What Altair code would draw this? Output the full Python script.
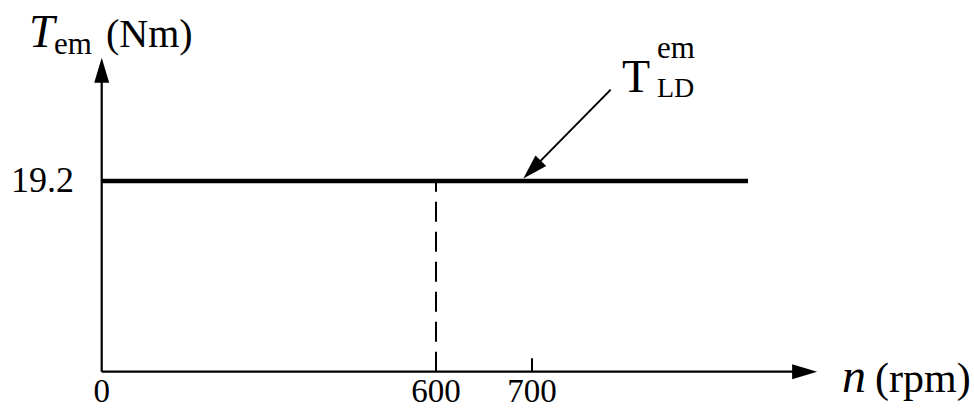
import altair as alt
import pandas as pd

# Load characteristic: constant electromagnetic torque over speed
load_torque = 19.2          # Nm
speed_end = 925             # rpm, right end of the drawn characteristic
marked_speed = 600          # rpm, dashed drop line
tick_speed = 700            # rpm, extra axis tick
x_ticks = [0, 600, 700]
x_tick_labels = ["0", "600", "700"]
y_tick_label = "19.2"

# Axis extents (arrow tips)
x_axis_end = 997
y_axis_end = 31.6

# Annotation arrow (tail -> tip), in data units
ann_tail = (782, 28.4)
ann_tip = (691, 19.45)

W, H = 974, 410
SERIF = "Liberation Serif"

# Piecewise speed axis: schematic spacing, not proportional
xs = alt.Scale(domain=[0, 600, 700, 1000], range=[101.7, 436, 532, 820],
               nice=False, zero=False)
ys = alt.Scale(domain=[0, load_torque], range=[371.7, 181], nice=False, zero=False)

def X(field):
    return alt.X(field, type="quantitative", scale=xs, axis=None)

def Y(field):
    return alt.Y(field, type="quantitative", scale=ys, axis=None)

# Axis shafts
axes_df = pd.DataFrame({
    "x": [0, 0], "x2": [x_axis_end - 20, 0],
    "y": [0, 0], "y2": [0, y_axis_end - 2.2],
})
axes = alt.Chart(axes_df).mark_rule(color="black", strokeWidth=2.2).encode(
    x=X("x"), x2="x2", y=Y("y"), y2="y2")

# Arrowheads: custom triangle (unit square is [-1, 1]) with the tip at the anchor
head_path = "M0,0L0.6,2L-0.6,2Z"
heads_df = pd.DataFrame({
    "x": [0, x_axis_end, ann_tip[0]],
    "y": [y_axis_end, 0, ann_tip[1]],
    "angle": [0, 90, 224.4],
})
heads = alt.Chart(heads_df).mark_point(
    shape=head_path, filled=True, color="black", opacity=1, size=625, strokeWidth=0
).encode(x=X("x"), y=Y("y"), angle=alt.Angle("angle:Q", scale=None))

# Constant load torque line
load_df = pd.DataFrame({"x": [0], "x2": [speed_end], "y": [load_torque]})
load = alt.Chart(load_df).mark_rule(color="black", strokeWidth=4.5).encode(
    x=X("x"), x2="x2", y=Y("y"))

# Dashed drop line at 600 rpm
drop_df = pd.DataFrame({"x": [marked_speed], "y": [0], "y2": [load_torque]})
drop = alt.Chart(drop_df).mark_rule(color="black", strokeWidth=2, strokeDash=[20, 10]).encode(
    x=X("x"), y=Y("y"), y2="y2")

# Small tick at 700 rpm
tick_df = pd.DataFrame({"x": [tick_speed], "y": [0], "y2": [1.35]})
tick = alt.Chart(tick_df).mark_rule(color="black", strokeWidth=2).encode(
    x=X("x"), y=Y("y"), y2="y2")

# Annotation leader line
ann_df = pd.DataFrame({"x": [ann_tail[0]], "x2": [ann_tip[0] + 12], "y": [ann_tail[1]], "y2": [ann_tip[1] + 1.2]})
ann = alt.Chart(ann_df).mark_rule(color="black", strokeWidth=2).encode(
    x=X("x"), x2="x2", y=Y("y"), y2="y2")

# Speed tick labels
xl_df = pd.DataFrame({"x": x_ticks, "label": x_tick_labels})
xlabels = alt.Chart(xl_df).mark_text(
    font=SERIF, fontSize=33, color="black", align="center", baseline="alphabetic"
).encode(x=X("x"), y=alt.value(402), text="label")

# Torque label
yl_df = pd.DataFrame({"y": [load_torque], "label": [y_tick_label]})
ylabel = alt.Chart(yl_df).mark_text(
    font=SERIF, fontSize=36, color="black", align="right", baseline="middle"
).encode(x=alt.value(74), y=Y("y"), text="label")

def txt(s, x, y, size, italic=False, align="left"):
    return alt.Chart(pd.DataFrame({"t": [s]})).mark_text(
        font=SERIF, fontSize=size, color="black", align=align, baseline="alphabetic",
        fontStyle="italic" if italic else "normal"
    ).encode(x=alt.value(x), y=alt.value(y), text="t")

titles = [
    txt("T", 29, 47, 46, italic=True),
    txt("em", 54, 54, 31),
    txt("(Nm)", 106, 47, 40),
    txt("n", 842, 392, 48, italic=True),
    txt("(rpm)", 875, 392, 42),
    txt("T", 622, 92, 46),
    txt("em", 657, 58, 31),
    txt("LD", 657, 97, 28),
]

chart = alt.layer(axes, heads, load, drop, tick, ann, xlabels, ylabel, *titles).properties(
    width=W, height=H, padding=0, autosize=alt.AutoSizeParams(type="none"),
    background="white"
).configure_view(stroke=None)

chart.save("out.html", embed_options={"renderer": "svg", "actions": False})
